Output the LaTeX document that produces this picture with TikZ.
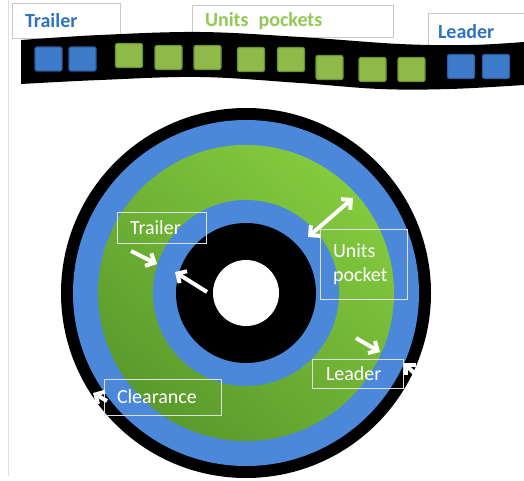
\documentclass[tikz,border=0pt]{standalone}
\usepackage{fontspec}
\setmainfont{Carlito}
\usetikzlibrary{positioning, arrows.meta}

\definecolor{discblue}{HTML}{4B88D9}
\definecolor{discgreenl}{HTML}{84CA3E}
\definecolor{discgreend}{HTML}{5A9A2C}
\definecolor{pktblue}{HTML}{3E7BCB}
\definecolor{pktblueb}{HTML}{2C5C9C}
\definecolor{pktgreen}{HTML}{8FBA4A}
\definecolor{pktgreenb}{HTML}{6A9432}
\definecolor{lblblue}{HTML}{2F73BF}
\definecolor{lblgreen}{HTML}{93C852}
\definecolor{boxgray}{HTML}{C8C8C8}

\begin{document}
\begin{tikzpicture}[
    x=1pt, y=-1pt,
    % cajas de texto con borde gris claro
    lbox/.style={
        rectangle,
        draw=boxgray,
        line width=0.8pt,
        align=left,
        inner ysep=0pt,
        inner xsep=13pt,
        font=\fontsize{20}{24}\selectfont
    },
    toplbl/.style={lbox, font=\fontsize{20}{24}\selectfont\bfseries},
    disclbl/.style={lbox, draw=white!75!gray, text=white},
    pocket/.style={
        rectangle,
        rounded corners=2pt,
        minimum width=27pt,
        minimum height=24pt,
        line width=1.2pt,
        inner sep=0pt
    },
    tpocket/.style={pocket, fill=pktblue, draw=pktblueb},
    upocket/.style={pocket, fill=pktgreen, draw=pktgreenb},
    warr/.style={draw=white, line width=4pt,
        -{Straight Barb[length=7pt, width=14pt]}}
]
    \useasboundingbox (0,0) rectangle (524,481);

    % --- MARCO IZQUIERDO ---
    \draw[gray!25, line width=1pt] (8,0) -- (8,476);

    % --- ETIQUETAS DE LA CINTA ---
    \node[toplbl, text=lblblue, minimum width=108pt, minimum height=35pt, text width=82pt] (trailertop) at (66,20.5) {Trailer};
    \node[toplbl, text=lblgreen, minimum width=201pt, minimum height=32pt, text width=175pt] (unitstop) at (292.5,21) {Units\ \,pockets};
    \node[toplbl, text=lblblue, inner xsep=10pt, minimum width=102pt, minimum height=37pt, text width=82pt] (leadertop) at (479,31.5) {Leader};

    % --- CINTA ---
    \fill[black] plot[smooth, tension=0.6] coordinates {(21,40) (100,35) (200,32) (300,37) (400,44) (470,45) (524,42)}
        -- plot[smooth, tension=0.6] coordinates {(524,85) (450,89) (380,89) (300,83) (200,77) (100,80) (21,84)}
        -- cycle;

    % --- ALVEOLOS ---
    \node[tpocket] (t1) at (48.5,59) {};
    \node[tpocket] (t2) at (82.5,59) {};
    \node[upocket] (u1) at (129,55.5) {};
    \node[upocket] (u2) at (168.5,57.5) {};
    \node[upocket] (u3) at (207.5,57.5) {};
    \node[upocket] (u4) at (251,59.5) {};
    \node[upocket] (u5) at (291,59.5) {};
    \node[upocket] (u6) at (329.5,67.5) {};
    \node[upocket] (u7) at (372.5,69.5) {};
    \node[upocket] (u8) at (411.5,69.5) {};
    \node[tpocket] (l1) at (461,66.5) {};
    \node[tpocket] (l2) at (496,66.5) {};

    % --- BOBINA ---
    \coordinate (ctr) at (246,293);
    \fill[black] (ctr) circle (185pt);
    \fill[discblue] (ctr) circle (173pt);
    \shade[top color=discgreenl, bottom color=discgreend, shading angle=-40] (ctr) circle (148pt);
    \fill[discblue] (ctr) circle (93pt);
    \fill[black] (ctr) circle (70pt);
    \fill[white] (ctr) circle (33pt);

    % --- ETIQUETAS DE LA BOBINA ---
    \node[disclbl, minimum width=89pt, minimum height=31pt, text width=63pt] (trailer) at (161.5,227.5) {Trailer};
    \node[disclbl, minimum width=87pt, minimum height=70pt, text width=61pt] (units) at (363.5,264) {Units\\pocket};
    \node[disclbl, inner xsep=14pt, minimum width=91pt, minimum height=29pt, text width=63pt] (leader) at (357.5,373.5) {Leader};
    \node[disclbl, minimum width=117pt, minimum height=36pt, text width=91pt] (clearance) at (162.5,397) {Clearance};

    % --- FLECHAS ---
    \coordinate (trA) at (131,251);
    \coordinate (trB) at (157,264);
    \coordinate (trC) at (207,292);
    \coordinate (trD) at (175,272);
    \coordinate (unA) at (308,237);
    \coordinate (unB) at (353,198);
    \coordinate (ldA) at (356,338);
    \coordinate (ldB) at (380,352);
    \coordinate (ldC) at (419,378);
    \coordinate (ldD) at (404,363);
    \coordinate (clA) at (107,401);
    \coordinate (clB) at (93,393);

    \draw[warr] (trA) -- (trB);
    \draw[warr] (trC) -- (trD);
    \draw[warr, {Straight Barb[length=7pt, width=14pt]}-{Straight Barb[length=7pt, width=14pt]}] (unA) -- (unB);
    \draw[warr] (ldA) -- (ldB);
    \draw[warr] (ldC) -- (ldD);
    \draw[warr] (clA) -- (clB);

\end{tikzpicture}
\end{document}
